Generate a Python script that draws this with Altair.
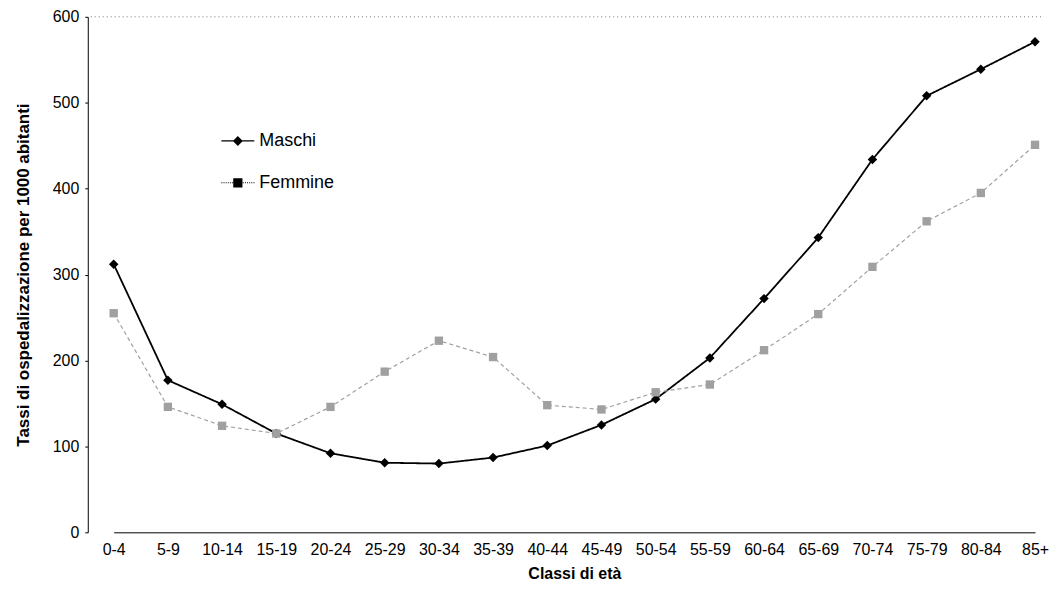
import altair as alt
import pandas as pd

ages = ["0-4", "5-9", "10-14", "15-19", "20-24", "25-29", "30-34", "35-39", "40-44",
        "45-49", "50-54", "55-59", "60-64", "65-69", "70-74", "75-79", "80-84", "85+"]
maschi = [312, 177, 149, 115, 92, 81, 80, 87, 101, 125, 155, 203, 272, 343, 434, 508, 539, 571]
femmine = [255, 146, 124, 115, 146, 187, 223, 204, 148, 143, 163, 172, 212, 254, 309, 362, 395, 451]
sexes = ["Maschi", "Femmine"]
y_ticks = [0, 100, 200, 300, 400, 500, 600]

rows = []
for a, m, f in zip(ages, maschi, femmine):
    rows.append({"Età": a, "Sesso": "Maschi", "Tasso": m})
    rows.append({"Età": a, "Sesso": "Femmine", "Tasso": f})
df = pd.DataFrame(rows)
df["Legenda"] = df["Sesso"]

FONT = "Liberation Sans"
BLACK = "#000000"
GREY = "#8a8a8a"

# legend symbols: line segment with marker (custom SVG paths in unit box)
path_m = "M-1,-0.035H1V0.035H-1Z M0,-0.3L0.3,0L0,0.3L-0.3,0Z"
segs = []
xx = -1.0
while xx < 1.0:
    if abs(xx) > 0.3:
        segs.append(f"M{xx:.2f},-0.03H{xx+0.06:.2f}V0.03H{xx:.2f}Z")
    xx += 0.13
path_f = " ".join(segs) + " M-0.28,-0.28H0.28V0.28H-0.28Z"

x_enc = alt.X("Età:N", sort=ages,
              scale=alt.Scale(type="point", range=[26, 950], padding=0),
              axis=alt.Axis(title="Classi di età", labelAngle=0, ticks=False,
                            labelPadding=9, titlePadding=8, domainColor=BLACK,
                            domainWidth=1, labelFontSize=16, labelColor=BLACK,
                            titleFontSize=16, titleFontWeight="bold", titleColor=BLACK,
                            labelFont=FONT, titleFont=FONT))
y_enc = alt.Y("Tasso:Q", scale=alt.Scale(domain=[0, 600], nice=False),
              axis=alt.Axis(title="Tassi di ospedalizzazione per 1000 abitanti",
                            values=y_ticks, grid=False, tickSize=3, tickColor=BLACK,
                            labelPadding=6, titlePadding=20, domainColor=BLACK,
                            domainWidth=1, labelFontSize=16, labelColor=BLACK,
                            titleFontSize=17, titleFontWeight="bold", titleColor=BLACK,
                            labelFont=FONT, titleFont=FONT))

base = alt.Chart(df)

lines = base.mark_line().encode(
    x=x_enc, y=y_enc,
    color=alt.Color("Sesso:N", scale=alt.Scale(domain=sexes, range=[BLACK, "#a0a0a0"]), legend=None),
    strokeDash=alt.StrokeDash("Sesso:N", scale=alt.Scale(domain=sexes, range=[[1, 0], [4, 3]]), legend=None),
    strokeWidth=alt.StrokeWidth("Sesso:N", scale=alt.Scale(domain=sexes, range=[1.8, 1.2]), legend=None),
)

points = base.mark_point(filled=True, opacity=1).encode(
    x=x_enc, y=y_enc,
    color=alt.Color("Sesso:N", scale=alt.Scale(domain=sexes, range=[BLACK, GREY]), legend=None),
    shape=alt.Shape("Sesso:N", scale=alt.Scale(domain=sexes, range=["diamond", "square"]), legend=None),
    size=alt.Size("Sesso:N", scale=alt.Scale(domain=sexes, range=[90, 70]), legend=None),
)

leg_props = dict(title=None, orient="none", legendX=134, legendY=108,
                 symbolSize=1089, symbolOpacity=1, symbolStrokeWidth=0,
                 labelFontSize=18, labelFont=FONT, labelColor=BLACK,
                 rowPadding=16, labelOffset=5)
legend_layer = base.mark_point(filled=True, opacity=0).encode(
    x=x_enc, y=y_enc,
    shape=alt.Shape("Legenda:N", scale=alt.Scale(domain=sexes, range=[path_m, path_f]),
                    legend=alt.Legend(**leg_props)),
    fill=alt.Fill("Legenda:N", scale=alt.Scale(domain=sexes, range=[BLACK, GREY]),
                  legend=alt.Legend(**leg_props)),
)

top_rule = alt.Chart(pd.DataFrame({"Tasso": [600]})).mark_rule(
    color="#777777", strokeDash=[1, 3], strokeWidth=1
).encode(y=alt.Y("Tasso:Q"))

chart = alt.layer(top_rule, lines, points, legend_layer).resolve_scale(
    shape="independent"
).properties(
    width=956, height=517,
    padding={"left": 6, "top": 0, "right": 0, "bottom": 0},
    background="white",
).configure_view(stroke=None)

chart.save("out.html", embed_options={"renderer": "svg", "actions": False})
